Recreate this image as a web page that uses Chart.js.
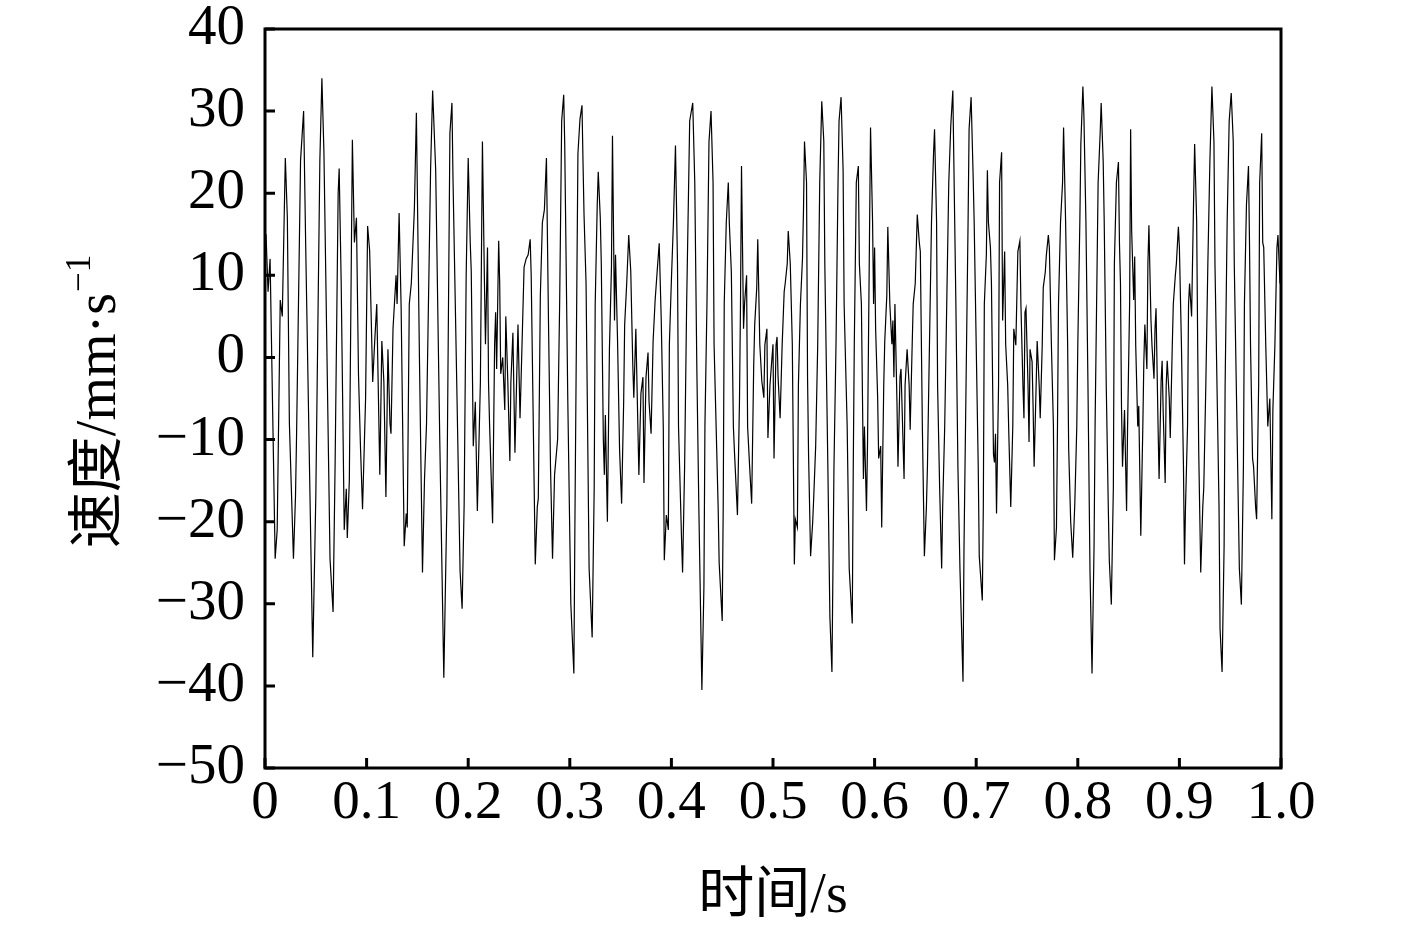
<!DOCTYPE html>
<html>
<head>
<meta charset="utf-8">
<script src="https://cdn.jsdelivr.net/npm/chart.js@4.4.1/dist/chart.umd.min.js"></script>
<style>
html,body{margin:0;padding:0;background:#fff;overflow:hidden}
#wrap{width:1417px;height:926px;position:relative}
</style>
</head>
<body>
<div id="wrap"><canvas id="c" width="1417" height="926"></canvas></div>
<script>
// time (ms) of each read-off sample point
const timeMs = [
1,3,5,10,12,15,17,20,22,24,
28,30,31,35,38,40,47,50,54,56,
58,64,67,69,72,73,75,78,80,81,
83,86,88,90,92,94,96,99,101,103,
106,108,110,113,115,117,119,121,123,124,
126,129,130,132,134,137,139,140,142,144,
147,149,152,155,157,159,163,165,168,172,
176,179,182,184,185,189,192,194,196,198,
200,202,203,205,207,209,212,214,216,217,
219,220,221,224,226,227,228,230,231,232,
234,236,237,239,241,242,244,246,248,249,
251,252,255,257,259,261,262,266,268,269,
271,273,275,277,279,281,283,285,288,290,
292,294,295,298,301,304,305,307,308,310,
312,313,314,316,319,322,324,325,327,328,
330,331,333,334,335,337,339,341,342,344,
345,347,349,351,353,354,356,358,360,362,
363,365,367,368,370,372,373,375,377,378,
380,382,384,386,388,390,392,393,395,397,
398,400,402,404,406,407,410,411,413,415,
417,418,421,423,425,427,430,432,433,435,
437,439,441,442,446,447,450,451,452,454,
456,457,459,461,462,465,467,468,469,471,
472,474,475,477,479,481,482,484,485,487,
489,491,492,494,495,497,499,500,501,503,
504,505,507,509,511,512,514,515,517,519,
521,522,524,525,527,529,530,531,533,534,
535,537,539,540,542,544,546,548,550,551,
554,556,558,560,562,564,565,567,569,570,
573,575,578,579,580,582,584,585,587,589,
590,592,593,596,598,599,600,601,603,604,
606,607,609,610,612,613,615,617,618,619,
620,622,623,625,626,627,629,630,632,634,
635,637,638,640,642,644,645,647,649,651,
652,654,655,656,658,659,661,662,664,666,
667,669,671,673,675,677,678,680,682,684,
687,688,690,692,693,695,697,698,700,702,
703,706,707,708,710,711,712,714,715,717,
718,719,720,722,723,725,726,728,729,731,
732,734,736,737,739,741,743,744,746,747,
748,749,751,752,753,755,756,757,759,760,
762,763,765,766,768,769,771,772,774,776,
777,779,780,781,783,785,786,788,790,791,
793,795,797,799,800,802,803,805,806,808,
810,812,814,816,817,819,820,822,823,825,
826,828,830,831,833,835,836,838,840,841,
842,843,844,846,848,849,851,852,853,855,
856,857,859,860,862,864,865,866,868,869,
870,872,873,875,876,877,879,880,882,883,
884,886,887,888,890,891,893,894,896,897,
899,900,902,904,905,906,908,909,910,912,
914,915,917,918,919,921,923,924,926,928,
930,932,934,935,937,939,940,942,944,945,
947,949,951,953,954,956,958,959,961,963,
964,966,968,969,970,972,973,975,976,978,
979,981,982,983,985,987,989,991,992,994,
996,997,999
];
// velocity (mm/s) at each sample point
const velocity = [
15,8,12,-24.5,-21,7,5,24.3,17,-8,
-24.5,-17,-10,24,30,14,-36.5,-17,24,34,
25,-24.5,-31,-13,20,23,9,-21,-16,-22,
-15,26.5,14,17,-2,-11,-18.5,-5,16,13,
-3,2,6.5,-14.3,2,-3,-17,1,-8,-9.3,
3.5,10,6.5,17.6,6,-23,-19,-20.7,6.5,9,
18,29.8,0,-26.2,-14.8,-8,23,32.5,22.8,-10,
-39,-18,27.3,31,22,-5,-26,-30.6,-18,10,
24.3,14,10.5,-10.8,-5.4,-18.7,-3,26.3,9,1.6,
13.4,-3,-8,-20.2,1.6,5.5,-1.4,14.2,9,-2,
0,-6.4,5,-3,-12.6,-3,3,-11.6,-1,4,
-7.4,-3,11,12,12.5,14.4,10,-25.2,-18.2,-17.2,
7.5,16.4,18,24.3,4.6,-13.3,-24.5,-14.3,-10,6.5,
28.8,32,26,-5,-30,-38.5,-20.7,10,24.8,29,
30.7,23.8,17.4,9,-25.7,-34.1,-16,6.5,18.6,22.6,
17,11.4,-10,-14.3,-7,-20,1,11,27,4.5,
12.5,2,-11.3,-17.8,-5.5,4,9,14.9,10.5,-1,
-4.9,3.5,-8.4,-14.3,-4.4,-2.4,-15.3,-2.4,0.6,-5.4,
-9.3,2,7,10.5,13.9,4.6,-8.4,-24.7,-19.2,-21,
1.6,9.4,16.5,25.8,11.4,-8.4,-22.2,-26.2,-13.3,6.5,
21.3,28.8,31,21.3,-1,-18.2,-40.5,-28,-8.4,6.5,
26.3,30,21.3,1.6,-18.2,-25,-32.1,-18.2,6.5,16.4,
21.3,16.4,10.4,-8.4,-11.3,-19.2,-5.4,6.5,23.3,3.5,
6.5,10,-8.4,-13.3,-17.8,-1,4,8.5,14.4,1.6,
-2.9,-4.9,1.5,3.5,-9.8,-3.4,0,1.6,-12.3,1.5,
2.5,-2.4,-7.4,1.5,8,9,11.4,15.4,11.4,1.6,
-25.2,-19.7,-20.7,-3.4,6.5,12,17.9,26.3,21.3,-2.4,
-11.8,-24.2,-20.2,-17.3,-10.8,1.5,21.3,31.2,26.3,11.4,
-13.3,-31.6,-38.3,-13.3,1.5,21.3,28.8,31.7,22.8,6.5,
-8.4,-25.7,-32.4,-13.3,1.5,21.3,23.3,11.4,6.5,-14.8,
-8.4,-18.7,-10.8,28,16.5,6.5,13.4,3.5,-4.9,-12.3,
-10.8,-20.7,-3.4,2,7.5,15.9,6.5,1.6,4.5,-2.4,
6.5,-5.4,-13.3,-2.4,-1.4,-5.9,-14.8,-3.4,1,-3.4,
-8.8,1.6,6.5,9,17.4,14,12.9,-8.4,-24.2,-18.2,
-13.3,1.6,9,16.5,24.8,27.8,16.5,-3.4,-15.8,-25.7,
-18.2,-8.4,6.5,21.3,28.3,32.5,23.8,6.5,-13.3,-25.7,
-39.5,-23,-3.4,16.5,27.8,31.7,22,16.5,1.5,-13.3,
-24.2,-29.6,-18.2,6.5,12.5,22.8,16.5,13.4,9,-11.8,
-12.8,-9.3,-19,-3.4,21.3,25,4.5,12.9,1.6,-3.4,
-8.8,-18.2,-8.4,3.5,1.5,12.9,14.2,6.5,-3.4,-7.4,
5.5,6,-3.4,-10.3,1,-0.5,-6,-13.3,-3.4,2,
-3.4,-7.4,1.5,8.5,10.4,12.4,14.9,13.4,1.6,-8.4,
-24.7,-20.7,-8.4,6.5,16.5,21.3,28,16.5,1.5,-11,
-20,-24.4,-18,-8.4,1.5,16.5,26,33,29.5,16.5,
-3.4,-26,-38.5,-23,-8.4,11.4,21.3,27.3,31,23.8,
16.5,-3.4,-18.2,-24.7,-30.1,-15.8,11.4,21.3,23.8,13.9,
9,-5.9,-13.3,-6.4,-18.7,-8.4,6.5,27.8,15.5,7,
12.3,1.5,-8.4,-5.9,-21.7,-8.4,-0.5,4,-1.4,11.4,
16.1,4.6,1.5,-2.6,3.5,6,-8.4,-14.8,-2.9,-0.4,
-6.4,-15.3,-3.4,-0.4,-4.9,-9.8,1.5,6.5,10,11.4,
15.9,13.4,1.5,-13.3,-25.2,-18.2,-8.4,6.5,9,5,
19.4,26,16.5,1.5,-11.3,-26.2,-18.2,-15.8,-3.4,11.4,
23.8,33,26.3,11.4,-3.4,-18.2,-33,-38.3,-23,-3.4,
16.5,28.8,32.2,26.3,11.4,-3.4,-18.2,-25.7,-30.1,-13.3,
6.5,18.6,23.3,13.9,1.5,-12.3,-13.3,-18.2,-19.7,-3.4,
21.3,27.3,14,13.4,1.5,-8.4,-5,-19.7,-6.4,1.5,
13.4,14.9,9
];
const xTicks = [0,0.1,0.2,0.3,0.4,0.5,0.6,0.7,0.8,0.9,1.0];
const yTicks = [-50,-40,-30,-20,-10,0,10,20,30,40];
const xTitle = '时间/s';
const yTitleMain = '速度/mm·s';
const yTitleSup = '−1';

const FONT = '"Liberation Serif", "Noto Sans CJK SC", serif';
const n = Math.min(timeMs.length, velocity.length);
const points = [];
for (let i = 0; i < n; i++) points.push({x: timeMs[i] / 1000, y: velocity[i]});

const framePlugin = {
  id: 'frame',
  afterDraw(chart) {
    const ctx = chart.ctx;
    const a = chart.chartArea;
    const xs = chart.scales.x, ys = chart.scales.y;
    ctx.save();
    ctx.strokeStyle = '#000';
    ctx.lineWidth = 3;
    ctx.strokeRect(a.left, a.top, a.right - a.left, a.bottom - a.top);
    ctx.beginPath();
    yTicks.forEach(v => {
      const p = ys.getPixelForValue(v);
      ctx.moveTo(a.left, p); ctx.lineTo(a.left + 10, p);
    });
    xTicks.forEach(v => {
      const p = xs.getPixelForValue(v);
      ctx.moveTo(p, a.bottom); ctx.lineTo(p, a.bottom - 10);
    });
    ctx.stroke();
    // titles
    ctx.fillStyle = '#000';
    ctx.textBaseline = 'middle';
    ctx.textAlign = 'center';
    ctx.font = '56px ' + FONT;
    ctx.fillText(xTitle, 773, 897);
    // y title rotated with superscript
    ctx.translate(100, 402);
    ctx.rotate(-Math.PI / 2);
    ctx.textAlign = 'left';
    ctx.font = '56px ' + FONT;
    const w1 = ctx.measureText(yTitleMain).width;
    ctx.font = '35px ' + FONT;
    const w2 = ctx.measureText(yTitleSup).width;
    const start = -(w1 + w2) / 2;
    ctx.font = '56px ' + FONT;
    ctx.fillText(yTitleMain, start, 0);
    ctx.font = '35px ' + FONT;
    ctx.fillText(yTitleSup, start + w1 + 1, -19);
    ctx.restore();
  }
};

new Chart(document.getElementById('c'), {
  type: 'line',
  data: {
    datasets: [{
      data: points,
      borderColor: '#000',
      borderWidth: 1.2,
      pointRadius: 0,
      fill: false,
      tension: 0
    }]
  },
  options: {
    responsive: false,
    animation: false,
    devicePixelRatio: 1,
    layout: {padding: {top: 29, right: 136, left: 0, bottom: 0}},
    plugins: {legend: {display: false}, tooltip: {enabled: false}},
    scales: {
      x: {
        type: 'linear',
        min: 0, max: 1,
        afterBuildTicks: s => { s.ticks = xTicks.map(v => ({value: v})); },
        afterFit: s => { s.height = 158; s.paddingLeft = 0; s.paddingRight = 0; },
        grid: {display: false},
        border: {display: false},
        ticks: {
          color: '#000',
          font: {family: FONT, size: 55, lineHeight: 1},
          padding: 0,
          maxRotation: 0,
          autoSkip: false,
          callback: v => (v === 0 ? '0' : Number(v).toFixed(1))
        }
      },
      y: {
        type: 'linear',
        min: -50, max: 40,
        afterBuildTicks: s => { s.ticks = yTicks.map(v => ({value: v})); },
        afterFit: s => { s.width = 265; s.paddingTop = 0; s.paddingBottom = 0; },
        grid: {display: false},
        border: {display: false},
        ticks: {
          color: '#000',
          font: {family: FONT, size: 57},
          padding: 12,
          autoSkip: false,
          callback: v => (v < 0 ? '−' + Math.abs(v) : String(v))
        }
      }
    }
  },
  plugins: [framePlugin]
});
</script>
</body>
</html>
